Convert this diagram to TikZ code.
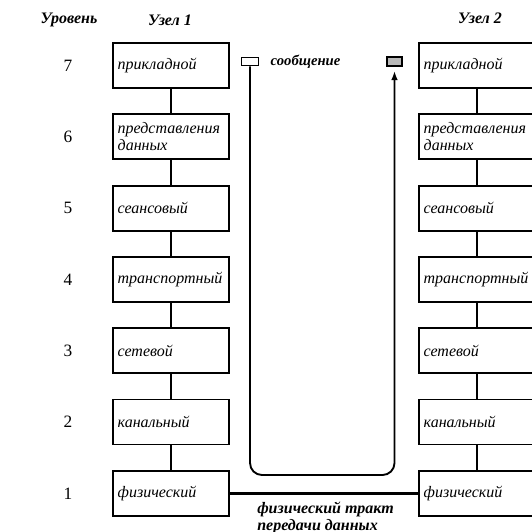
\documentclass[tikz,border=0pt]{standalone}
\usepackage{fontspec}
\setmainfont{Liberation Serif}
\usetikzlibrary{arrows.meta}
\begin{document}
\begin{tikzpicture}[x=0.75pt,y=-0.75pt,
  layer/.style={draw, line width=1.4pt, minimum width=87pt, minimum height=33.75pt,
    text width=80pt, inner xsep=3.5pt, inner ysep=2pt, align=left,
    font=\itshape\fontsize{12}{12.5}\selectfont},
  lvl/.style={font=\fontsize{13}{13}\selectfont},
  head/.style={font=\bfseries\itshape\fontsize{12}{13}\selectfont},
  link/.style={line width=1.4pt},
  tag/.style={draw, line width=1.2pt, inner sep=0pt},
]
\useasboundingbox (0,0) rectangle (532,532);
\clip (0,0) rectangle (532,532);

% column headers
\node[head] (hlvl) at (69,20) {Уровень};
\node[head] (hn1) at (170,20) {Узел 1};
\node[head] (hn2) at (480,18) {Узел 2};

% the seven layers of both nodes
\foreach \k/\txt in {7/прикладной, 6/{представления\\данных}, 5/сеансовый,
                     4/транспортный, 3/сетевой, 2/канальный, 1/физический} {
  \pgfmathsetmacro\yy{65.5+(7-\k)*71.3}
  \node[lvl] (n\k) at (68,\yy) {\k};
  \node[layer] (l\k) at (171,\yy) {\txt};
  \node[layer] (r\k) at (477,\yy) {\txt};
}

% links between adjacent layers
\foreach \k in {1,...,6} {
  \pgfmathtruncatemacro\j{\k+1}
  \draw[link] (l\j) -- (l\k);
  \draw[link] (r\j) -- (r\k);
}

% message travelling down one stack and up the other
\node[tag, minimum width=12.75pt, minimum height=6pt] (src) at (250,61.5) {};
\node[tag, fill=gray!55, minimum width=11.25pt, minimum height=6.75pt] (dst) at (394.5,61.5) {};
\node[head, anchor=west, font=\bfseries\itshape\fontsize{11}{12}\selectfont] (msg) at (266,61.5) {сообщение};
\coordinate (c1) at (250,475);
\coordinate (c2) at (394.5,475);
\draw[link, rounded corners=9pt, -{Latex[length=7pt,width=5pt]}, shorten >=3pt]
  (src.south) -- (c1) -- (c2) -- (dst.south);

% physical channel
\draw[line width=1.8pt] (l1) -- (r1);
\node[head, anchor=north west, align=left, inner sep=0pt, font=\bfseries\itshape\fontsize{12}{12.5}\selectfont]
  (tract) at (257,502) {физический тракт\\передачи данных};
\end{tikzpicture}
\end{document}
